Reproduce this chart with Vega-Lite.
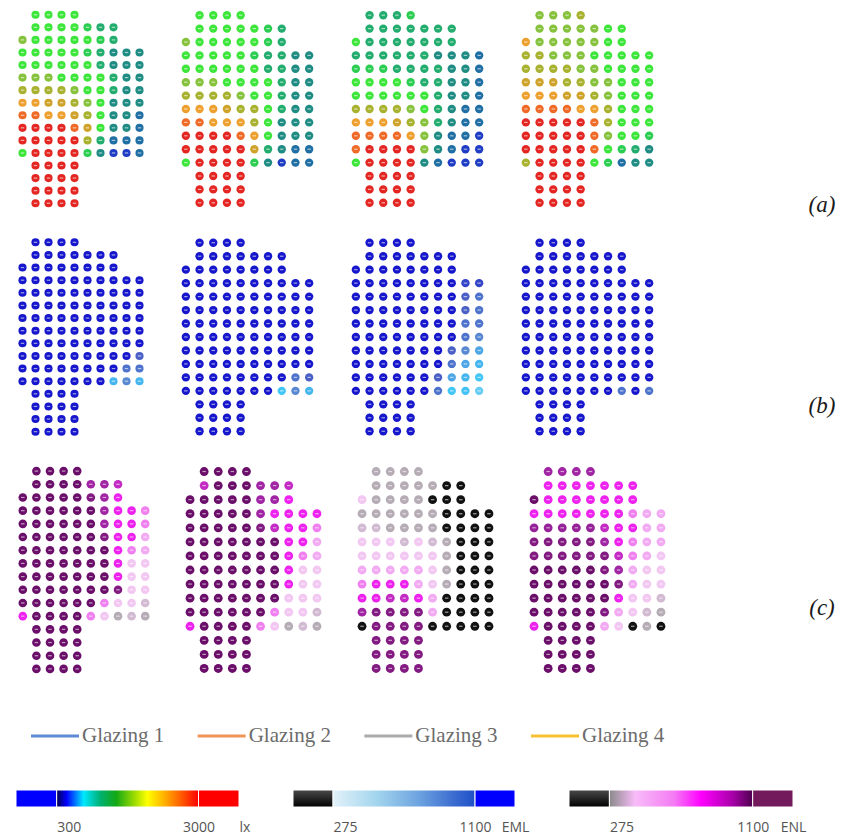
{
  "$schema": "https://vega.github.io/schema/vega-lite/v6.json",
  "padding": {"left": 15, "top": 8.5, "right": 0, "bottom": 0},
  "background": "#ffffff",
  "config": {"view": {"stroke": null}},
  "datasets": {
    "seats": [
      {"r":0,"c":1,"a1":1450,"a2":1450,"a3":1150,"a4":1700,"b1":1500,"b2":1500,"b3":1500,"b4":1500,"c1":1400,"c2":1400,"c3":285,"c4":850},
      {"r":0,"c":2,"a1":1450,"a2":1450,"a3":1150,"a4":1700,"b1":1500,"b2":1500,"b3":1500,"b4":1500,"c1":1400,"c2":1400,"c3":285,"c4":850},
      {"r":0,"c":3,"a1":1450,"a2":1450,"a3":1150,"a4":1700,"b1":1500,"b2":1500,"b3":1500,"b4":1500,"c1":1400,"c2":1400,"c3":285,"c4":850},
      {"r":0,"c":4,"a1":1450,"a2":1450,"a3":1300,"a4":1900,"b1":1500,"b2":1500,"b3":1500,"b4":1500,"c1":1400,"c2":1400,"c3":285,"c4":850},

      {"r":1,"c":1,"a1":1450,"a2":1450,"a3":1150,"a4":1700,"b1":1500,"b2":1500,"b3":1500,"b4":1500,"c1":1400,"c2":750,"c3":285,"c4":650},
      {"r":1,"c":2,"a1":1450,"a2":1450,"a3":1150,"a4":1700,"b1":1500,"b2":1500,"b3":1500,"b4":1500,"c1":1400,"c2":1400,"c3":285,"c4":650},
      {"r":1,"c":3,"a1":1450,"a2":1450,"a3":1150,"a4":1700,"b1":1500,"b2":1500,"b3":1500,"b4":1500,"c1":1400,"c2":1400,"c3":285,"c4":650},
      {"r":1,"c":4,"a1":1450,"a2":1450,"a3":1150,"a4":1700,"b1":1500,"b2":1500,"b3":1500,"b4":1500,"c1":1400,"c2":1400,"c3":285,"c4":650},
      {"r":1,"c":5,"a1":1300,"a2":1450,"a3":1150,"a4":1700,"b1":1500,"b2":1500,"b3":1500,"b4":1500,"c1":850,"c2":850,"c3":285,"c4":650},
      {"r":1,"c":6,"a1":1150,"a2":1300,"a3":1150,"a4":1450,"b1":1500,"b2":1500,"b3":1500,"b4":1500,"c1":850,"c2":850,"c3":200,"c4":650},
      {"r":1,"c":7,"a1":1150,"a2":1150,"a3":1150,"a4":1450,"b1":1500,"b2":1500,"b3":1500,"b4":1500,"c1":750,"c2":750,"c3":200,"c4":650},

      {"r":2,"c":0,"a1":1700,"a2":1700,"a3":1450,"a4":2450,"b1":1500,"b2":1500,"b3":1500,"b4":1500,"c1":1400,"c2":1400,"c3":340,"c4":1400},
      {"r":2,"c":1,"a1":1450,"a2":1450,"a3":1150,"a4":1700,"b1":1500,"b2":1500,"b3":1500,"b4":1500,"c1":1400,"c2":1400,"c3":285,"c4":650},
      {"r":2,"c":2,"a1":1450,"a2":1450,"a3":1150,"a4":1700,"b1":1500,"b2":1500,"b3":1500,"b4":1500,"c1":1400,"c2":1400,"c3":285,"c4":650},
      {"r":2,"c":3,"a1":1450,"a2":1450,"a3":1150,"a4":1700,"b1":1500,"b2":1500,"b3":1500,"b4":1500,"c1":1400,"c2":1400,"c3":285,"c4":650},
      {"r":2,"c":4,"a1":1450,"a2":1450,"a3":1150,"a4":1700,"b1":1500,"b2":1500,"b3":1500,"b4":1500,"c1":1400,"c2":1400,"c3":285,"c4":650},
      {"r":2,"c":5,"a1":1450,"a2":1450,"a3":1150,"a4":1700,"b1":1500,"b2":1500,"b3":1500,"b4":1500,"c1":1000,"c2":850,"c3":200,"c4":650},
      {"r":2,"c":6,"a1":1300,"a2":1300,"a3":1150,"a4":1450,"b1":1500,"b2":1500,"b3":1500,"b4":1500,"c1":850,"c2":850,"c3":200,"c4":650},
      {"r":2,"c":7,"a1":1150,"a2":1150,"a3":1150,"a4":1450,"b1":1500,"b2":1500,"b3":1500,"b4":1500,"c1":650,"c2":650,"c3":200,"c4":650},

      {"r":3,"c":0,"a1":1450,"a2":1450,"a3":1150,"a4":1900,"b1":1500,"b2":1500,"b3":1500,"b4":1500,"c1":1400,"c2":1400,"c3":285,"c4":650},
      {"r":3,"c":1,"a1":1450,"a2":1450,"a3":1150,"a4":1900,"b1":1500,"b2":1500,"b3":1500,"b4":1500,"c1":1400,"c2":1400,"c3":285,"c4":650},
      {"r":3,"c":2,"a1":1450,"a2":1450,"a3":1150,"a4":1700,"b1":1500,"b2":1500,"b3":1500,"b4":1500,"c1":1400,"c2":1400,"c3":285,"c4":650},
      {"r":3,"c":3,"a1":1450,"a2":1450,"a3":1150,"a4":1700,"b1":1500,"b2":1500,"b3":1500,"b4":1500,"c1":1400,"c2":1400,"c3":285,"c4":650},
      {"r":3,"c":4,"a1":1450,"a2":1450,"a3":1150,"a4":1700,"b1":1500,"b2":1500,"b3":1500,"b4":1500,"c1":1400,"c2":1400,"c3":285,"c4":650},
      {"r":3,"c":5,"a1":1300,"a2":1300,"a3":1150,"a4":1450,"b1":1500,"b2":1500,"b3":1500,"b4":1500,"c1":1400,"c2":850,"c3":285,"c4":650},
      {"r":3,"c":6,"a1":1150,"a2":1150,"a3":950,"a4":1450,"b1":1500,"b2":1500,"b3":1500,"b4":1500,"c1":850,"c2":650,"c3":200,"c4":650},
      {"r":3,"c":7,"a1":950,"a2":1150,"a3":950,"a4":1450,"b1":1500,"b2":1500,"b3":1500,"b4":1500,"c1":650,"c2":650,"c3":200,"c4":500},
      {"r":3,"c":8,"a1":950,"a2":950,"a3":950,"a4":1450,"b1":1500,"b2":1500,"b3":1050,"b4":1500,"c1":650,"c2":650,"c3":200,"c4":400},
      {"r":3,"c":9,"a1":950,"a2":950,"a3":750,"a4":1450,"b1":1500,"b2":1500,"b3":1050,"b4":1500,"c1":500,"c2":650,"c3":200,"c4":400},

      {"r":4,"c":0,"a1":1450,"a2":1450,"a3":1300,"a4":1900,"b1":1500,"b2":1500,"b3":1500,"b4":1500,"c1":1400,"c2":1400,"c3":300,"c4":900},
      {"r":4,"c":1,"a1":1450,"a2":1450,"a3":1300,"a4":1900,"b1":1500,"b2":1500,"b3":1500,"b4":1500,"c1":1400,"c2":1400,"c3":300,"c4":900},
      {"r":4,"c":2,"a1":1450,"a2":1450,"a3":1300,"a4":1900,"b1":1500,"b2":1500,"b3":1500,"b4":1500,"c1":1400,"c2":1400,"c3":285,"c4":900},
      {"r":4,"c":3,"a1":1450,"a2":1450,"a3":1150,"a4":1900,"b1":1500,"b2":1500,"b3":1500,"b4":1500,"c1":1400,"c2":1400,"c3":285,"c4":900},
      {"r":4,"c":4,"a1":1450,"a2":1450,"a3":1150,"a4":1700,"b1":1500,"b2":1500,"b3":1500,"b4":1500,"c1":1400,"c2":1400,"c3":285,"c4":900},
      {"r":4,"c":5,"a1":1450,"a2":1450,"a3":1150,"a4":1700,"b1":1500,"b2":1500,"b3":1500,"b4":1500,"c1":1400,"c2":1000,"c3":285,"c4":750},
      {"r":4,"c":6,"a1":1150,"a2":1150,"a3":1150,"a4":1450,"b1":1500,"b2":1500,"b3":1500,"b4":1500,"c1":850,"c2":750,"c3":200,"c4":650},
      {"r":4,"c":7,"a1":950,"a2":1150,"a3":950,"a4":1450,"b1":1500,"b2":1500,"b3":1500,"b4":1500,"c1":650,"c2":650,"c3":200,"c4":650},
      {"r":4,"c":8,"a1":950,"a2":950,"a3":950,"a4":1450,"b1":1500,"b2":1500,"b3":950,"b4":1500,"c1":650,"c2":650,"c3":200,"c4":400},
      {"r":4,"c":9,"a1":950,"a2":950,"a3":750,"a4":1450,"b1":1500,"b2":1500,"b3":880,"b4":1500,"c1":500,"c2":500,"c3":200,"c4":400},

      {"r":5,"c":0,"a1":1700,"a2":1700,"a3":1450,"a4":2150,"b1":1500,"b2":1500,"b3":1500,"b4":1500,"c1":1400,"c2":1400,"c3":340,"c4":1000},
      {"r":5,"c":1,"a1":1700,"a2":1700,"a3":1450,"a4":2150,"b1":1500,"b2":1500,"b3":1500,"b4":1500,"c1":1400,"c2":1400,"c3":340,"c4":1000},
      {"r":5,"c":2,"a1":1700,"a2":1700,"a3":1450,"a4":2150,"b1":1500,"b2":1500,"b3":1500,"b4":1500,"c1":1400,"c2":1400,"c3":340,"c4":1000},
      {"r":5,"c":3,"a1":1450,"a2":1450,"a3":1450,"a4":1900,"b1":1500,"b2":1500,"b3":1500,"b4":1500,"c1":1400,"c2":1400,"c3":300,"c4":1000},
      {"r":5,"c":4,"a1":1450,"a2":1450,"a3":1300,"a4":1900,"b1":1500,"b2":1500,"b3":1500,"b4":1500,"c1":1400,"c2":1400,"c3":340,"c4":1000},
      {"r":5,"c":5,"a1":1450,"a2":1450,"a3":1150,"a4":1700,"b1":1500,"b2":1500,"b3":1500,"b4":1500,"c1":1400,"c2":1400,"c3":300,"c4":850},
      {"r":5,"c":6,"a1":1450,"a2":1450,"a3":1150,"a4":1700,"b1":1500,"b2":1500,"b3":1500,"b4":1500,"c1":1000,"c2":1400,"c3":285,"c4":650},
      {"r":5,"c":7,"a1":1150,"a2":1150,"a3":950,"a4":1450,"b1":1500,"b2":1500,"b3":1500,"b4":1500,"c1":650,"c2":650,"c3":200,"c4":500},
      {"r":5,"c":8,"a1":950,"a2":950,"a3":950,"a4":1450,"b1":1500,"b2":1500,"b3":950,"b4":1500,"c1":650,"c2":650,"c3":200,"c4":400},
      {"r":5,"c":9,"a1":950,"a2":950,"a3":750,"a4":1450,"b1":1500,"b2":1500,"b3":880,"b4":1500,"c1":400,"c2":400,"c3":200,"c4":400},

      {"r":6,"c":0,"a1":1900,"a2":1900,"a3":1450,"a4":2450,"b1":1500,"b2":1500,"b3":1500,"b4":1500,"c1":1400,"c2":1400,"c3":340,"c4":1000},
      {"r":6,"c":1,"a1":1900,"a2":1900,"a3":1450,"a4":2450,"b1":1500,"b2":1500,"b3":1500,"b4":1500,"c1":1400,"c2":1400,"c3":340,"c4":1000},
      {"r":6,"c":2,"a1":1900,"a2":1900,"a3":1450,"a4":2450,"b1":1500,"b2":1500,"b3":1500,"b4":1500,"c1":1400,"c2":1400,"c3":340,"c4":1000},
      {"r":6,"c":3,"a1":1900,"a2":1900,"a3":1450,"a4":2150,"b1":1500,"b2":1500,"b3":1500,"b4":1500,"c1":1400,"c2":1400,"c3":340,"c4":1000},
      {"r":6,"c":4,"a1":1700,"a2":1700,"a3":1450,"a4":2150,"b1":1500,"b2":1500,"b3":1500,"b4":1500,"c1":1400,"c2":1400,"c3":340,"c4":1000},
      {"r":6,"c":5,"a1":1450,"a2":1450,"a3":1450,"a4":1900,"b1":1500,"b2":1500,"b3":1500,"b4":1500,"c1":1400,"c2":1400,"c3":340,"c4":1000},
      {"r":6,"c":6,"a1":1450,"a2":1450,"a3":1150,"a4":1700,"b1":1500,"b2":1500,"b3":1500,"b4":1500,"c1":1400,"c2":1400,"c3":285,"c4":750},
      {"r":6,"c":7,"a1":1150,"a2":1150,"a3":950,"a4":1450,"b1":1500,"b2":1500,"b3":1500,"b4":1500,"c1":650,"c2":650,"c3":200,"c4":500},
      {"r":6,"c":8,"a1":950,"a2":950,"a3":950,"a4":1450,"b1":1500,"b2":1500,"b3":880,"b4":1500,"c1":500,"c2":500,"c3":200,"c4":400},
      {"r":6,"c":9,"a1":950,"a2":950,"a3":750,"a4":1450,"b1":1500,"b2":1500,"b3":880,"b4":1500,"c1":400,"c2":400,"c3":200,"c4":340},

      {"r":7,"c":0,"a1":2450,"a2":2450,"a3":1900,"a4":2750,"b1":1500,"b2":1500,"b3":1500,"b4":1500,"c1":1400,"c2":1400,"c3":400,"c4":1400},
      {"r":7,"c":1,"a1":2450,"a2":2450,"a3":1900,"a4":2750,"b1":1500,"b2":1500,"b3":1500,"b4":1500,"c1":1400,"c2":1400,"c3":400,"c4":1400},
      {"r":7,"c":2,"a1":2150,"a2":2450,"a3":1900,"a4":2750,"b1":1500,"b2":1500,"b3":1500,"b4":1500,"c1":1400,"c2":1400,"c3":400,"c4":1400},
      {"r":7,"c":3,"a1":2150,"a2":2150,"a3":1900,"a4":2750,"b1":1500,"b2":1500,"b3":1500,"b4":1500,"c1":1400,"c2":1400,"c3":400,"c4":1400},
      {"r":7,"c":4,"a1":1900,"a2":1900,"a3":1700,"a4":2450,"b1":1500,"b2":1500,"b3":1500,"b4":1500,"c1":1400,"c2":1400,"c3":400,"c4":1400},
      {"r":7,"c":5,"a1":1700,"a2":1900,"a3":1450,"a4":2450,"b1":1500,"b2":1500,"b3":1500,"b4":1500,"c1":1400,"c2":1400,"c3":340,"c4":1000},
      {"r":7,"c":6,"a1":1450,"a2":1450,"a3":1150,"a4":1900,"b1":1500,"b2":1500,"b3":1500,"b4":1500,"c1":1400,"c2":1400,"c3":285,"c4":850},
      {"r":7,"c":7,"a1":950,"a2":1150,"a3":950,"a4":1450,"b1":1500,"b2":1500,"b3":1500,"b4":1500,"c1":650,"c2":650,"c3":200,"c4":400},
      {"r":7,"c":8,"a1":950,"a2":950,"a3":750,"a4":1450,"b1":1500,"b2":1500,"b3":880,"b4":1500,"c1":340,"c2":340,"c3":200,"c4":340},
      {"r":7,"c":9,"a1":950,"a2":950,"a3":750,"a4":1450,"b1":1500,"b2":1500,"b3":800,"b4":1500,"c1":340,"c2":340,"c3":200,"c4":340},

      {"r":8,"c":0,"a1":2750,"a2":2750,"a3":2450,"a4":3000,"b1":1500,"b2":1500,"b3":1500,"b4":1500,"c1":1400,"c2":1400,"c3":500,"c4":1400},
      {"r":8,"c":1,"a1":2750,"a2":2750,"a3":2450,"a4":3000,"b1":1500,"b2":1500,"b3":1500,"b4":1500,"c1":1400,"c2":1400,"c3":650,"c4":1400},
      {"r":8,"c":2,"a1":2450,"a2":2450,"a3":2450,"a4":3000,"b1":1500,"b2":1500,"b3":1500,"b4":1500,"c1":1400,"c2":1400,"c3":650,"c4":1400},
      {"r":8,"c":3,"a1":2450,"a2":2450,"a3":2150,"a4":3000,"b1":1500,"b2":1500,"b3":1500,"b4":1500,"c1":1400,"c2":1400,"c3":650,"c4":1400},
      {"r":8,"c":4,"a1":2150,"a2":2450,"a3":1900,"a4":3000,"b1":1500,"b2":1500,"b3":1500,"b4":1500,"c1":1400,"c2":1400,"c3":400,"c4":1400},
      {"r":8,"c":5,"a1":1900,"a2":1900,"a3":1700,"a4":2750,"b1":1500,"b2":1500,"b3":1500,"b4":1500,"c1":1400,"c2":1400,"c3":340,"c4":1400},
      {"r":8,"c":6,"a1":1450,"a2":1450,"a3":1150,"a4":1900,"b1":1500,"b2":1500,"b3":1500,"b4":1500,"c1":1400,"c2":1400,"c3":285,"c4":1000},
      {"r":8,"c":7,"a1":950,"a2":950,"a3":950,"a4":1450,"b1":1500,"b2":1500,"b3":950,"b4":1500,"c1":650,"c2":650,"c3":200,"c4":400},
      {"r":8,"c":8,"a1":950,"a2":950,"a3":750,"a4":1450,"b1":1500,"b2":1500,"b3":800,"b4":1500,"c1":340,"c2":340,"c3":200,"c4":340},
      {"r":8,"c":9,"a1":750,"a2":950,"a3":750,"a4":1450,"b1":1500,"b2":1500,"b3":650,"b4":1500,"c1":340,"c2":340,"c3":200,"c4":340},

      {"r":9,"c":0,"a1":3000,"a2":3000,"a3":2750,"a4":3000,"b1":1500,"b2":1500,"b3":1500,"b4":1500,"c1":1400,"c2":1400,"c3":650,"c4":1400},
      {"r":9,"c":1,"a1":3000,"a2":3000,"a3":2750,"a4":3000,"b1":1500,"b2":1500,"b3":1500,"b4":1500,"c1":1400,"c2":1400,"c3":650,"c4":1400},
      {"r":9,"c":2,"a1":3000,"a2":3000,"a3":2750,"a4":3000,"b1":1500,"b2":1500,"b3":1500,"b4":1500,"c1":1400,"c2":1400,"c3":750,"c4":1400},
      {"r":9,"c":3,"a1":3000,"a2":3000,"a3":2750,"a4":3000,"b1":1500,"b2":1500,"b3":1500,"b4":1500,"c1":1400,"c2":1400,"c3":750,"c4":1400},
      {"r":9,"c":4,"a1":2750,"a2":2750,"a3":2450,"a4":3000,"b1":1500,"b2":1500,"b3":1500,"b4":1500,"c1":1400,"c2":1400,"c3":650,"c4":1400},
      {"r":9,"c":5,"a1":2150,"a2":2450,"a3":1700,"a4":2750,"b1":1500,"b2":1500,"b3":1500,"b4":1500,"c1":1400,"c2":1400,"c3":400,"c4":1400},
      {"r":9,"c":6,"a1":1450,"a2":1450,"a3":950,"a4":1700,"b1":1500,"b2":1500,"b3":1500,"b4":1500,"c1":1400,"c2":1400,"c3":200,"c4":650},
      {"r":9,"c":7,"a1":950,"a2":950,"a3":750,"a4":1450,"b1":1500,"b2":1500,"b3":880,"b4":1500,"c1":1000,"c2":340,"c3":200,"c4":340},
      {"r":9,"c":8,"a1":950,"a2":950,"a3":750,"a4":1450,"b1":1500,"b2":1500,"b3":650,"b4":1500,"c1":340,"c2":340,"c3":200,"c4":340},
      {"r":9,"c":9,"a1":750,"a2":950,"a3":500,"a4":1300,"b1":950,"b2":1500,"b3":550,"b4":1500,"c1":340,"c2":340,"c3":200,"c4":300},

      {"r":10,"c":0,"a1":3000,"a2":3000,"a3":2750,"a4":3000,"b1":1500,"b2":1500,"b3":1500,"b4":1500,"c1":1400,"c2":1400,"c3":850,"c4":1400},
      {"r":10,"c":1,"a1":3000,"a2":3000,"a3":3000,"a4":3000,"b1":1500,"b2":1500,"b3":1500,"b4":1500,"c1":1400,"c2":1400,"c3":1000,"c4":1400},
      {"r":10,"c":2,"a1":3000,"a2":3000,"a3":3000,"a4":3000,"b1":1500,"b2":1500,"b3":1500,"b4":1500,"c1":1400,"c2":1400,"c3":1000,"c4":1400},
      {"r":10,"c":3,"a1":3000,"a2":3000,"a3":3000,"a4":3000,"b1":1500,"b2":1500,"b3":1500,"b4":1500,"c1":1400,"c2":1400,"c3":1000,"c4":1400},
      {"r":10,"c":4,"a1":3000,"a2":3000,"a3":3000,"a4":3000,"b1":1500,"b2":1500,"b3":1500,"b4":1500,"c1":1400,"c2":1400,"c3":1000,"c4":1400},
      {"r":10,"c":5,"a1":1900,"a2":2150,"a3":1700,"a4":2750,"b1":1500,"b2":1500,"b3":1500,"b4":1500,"c1":1400,"c2":1400,"c3":400,"c4":1000},
      {"r":10,"c":6,"a1":1150,"a2":1150,"a3":950,"a4":1450,"b1":1500,"b2":1500,"b3":950,"b4":1500,"c1":500,"c2":500,"c3":200,"c4":400},
      {"r":10,"c":7,"a1":750,"a2":950,"a3":750,"a4":1300,"b1":1500,"b2":1500,"b3":650,"b4":1500,"c1":340,"c2":340,"c3":200,"c4":340},
      {"r":10,"c":8,"a1":750,"a2":750,"a3":500,"a4":1150,"b1":880,"b2":880,"b3":550,"b4":1500,"c1":340,"c2":340,"c3":200,"c4":300},
      {"r":10,"c":9,"a1":750,"a2":750,"a3":500,"a4":950,"b1":880,"b2":950,"b3":450,"b4":1500,"c1":300,"c2":300,"c3":200,"c4":285},

      {"r":11,"c":0,"a1":1450,"a2":1450,"a3":1450,"a4":1900,"b1":1500,"b2":1500,"b3":1500,"b4":1500,"c1":650,"c2":650,"c3":200,"c4":650},
      {"r":11,"c":1,"a1":3000,"a2":3000,"a3":3000,"a4":3000,"b1":1500,"b2":1500,"b3":1500,"b4":1500,"c1":1400,"c2":1400,"c3":1000,"c4":1400},
      {"r":11,"c":2,"a1":3000,"a2":3000,"a3":3000,"a4":3000,"b1":1500,"b2":1500,"b3":1500,"b4":1500,"c1":1400,"c2":1400,"c3":1000,"c4":1400},
      {"r":11,"c":3,"a1":3000,"a2":3000,"a3":3000,"a4":3000,"b1":1500,"b2":1500,"b3":1500,"b4":1500,"c1":1400,"c2":1400,"c3":1000,"c4":1400},
      {"r":11,"c":4,"a1":3000,"a2":3000,"a3":3000,"a4":3000,"b1":1500,"b2":1500,"b3":1500,"b4":1500,"c1":1400,"c2":1400,"c3":1000,"c4":1400},
      {"r":11,"c":5,"a1":1300,"a2":1300,"a3":950,"a4":1450,"b1":1500,"b2":1500,"b3":1500,"b4":1500,"c1":500,"c2":500,"c3":200,"c4":400},
      {"r":11,"c":6,"a1":950,"a2":950,"a3":750,"a4":1300,"b1":1500,"b2":1500,"b3":880,"b4":1500,"c1":340,"c2":340,"c3":200,"c4":340},
      {"r":11,"c":7,"a1":500,"a2":500,"a3":500,"a4":750,"b1":550,"b2":450,"b3":450,"b4":880,"c1":285,"c2":285,"c3":200,"c4":200},
      {"r":11,"c":8,"a1":500,"a2":750,"a3":500,"a4":950,"b1":800,"b2":800,"b3":480,"b4":1500,"c1":300,"c2":300,"c3":200,"c4":285},
      {"r":11,"c":9,"a1":750,"a2":750,"a3":500,"a4":950,"b1":550,"b2":550,"b3":420,"b4":880,"c1":285,"c2":285,"c3":200,"c4":200},

      {"r":12,"c":1,"a1":3000,"a2":3000,"a3":3000,"a4":3000,"b1":1500,"b2":1500,"b3":1500,"b4":1500,"c1":1400,"c2":1400,"c3":1000,"c4":1400},
      {"r":12,"c":2,"a1":3000,"a2":3000,"a3":3000,"a4":3000,"b1":1500,"b2":1500,"b3":1500,"b4":1500,"c1":1400,"c2":1400,"c3":1000,"c4":1400},
      {"r":12,"c":3,"a1":3000,"a2":3000,"a3":3000,"a4":3000,"b1":1500,"b2":1500,"b3":1500,"b4":1500,"c1":1400,"c2":1400,"c3":1000,"c4":1400},
      {"r":12,"c":4,"a1":3000,"a2":3000,"a3":3000,"a4":3000,"b1":1500,"b2":1500,"b3":1500,"b4":1500,"c1":1400,"c2":1400,"c3":1000,"c4":1400},
      {"r":13,"c":1,"a1":3000,"a2":3000,"a3":3000,"a4":3000,"b1":1500,"b2":1500,"b3":1500,"b4":1500,"c1":1400,"c2":1400,"c3":1000,"c4":1400},
      {"r":13,"c":2,"a1":3000,"a2":3000,"a3":3000,"a4":3000,"b1":1500,"b2":1500,"b3":1500,"b4":1500,"c1":1400,"c2":1400,"c3":1000,"c4":1400},
      {"r":13,"c":3,"a1":3000,"a2":3000,"a3":3000,"a4":3000,"b1":1500,"b2":1500,"b3":1500,"b4":1500,"c1":1400,"c2":1400,"c3":1000,"c4":1400},
      {"r":13,"c":4,"a1":3000,"a2":3000,"a3":3000,"a4":3000,"b1":1500,"b2":1500,"b3":1500,"b4":1500,"c1":1400,"c2":1400,"c3":1000,"c4":1400},
      {"r":14,"c":1,"a1":3000,"a2":3000,"a3":3000,"a4":3000,"b1":1500,"b2":1500,"b3":1500,"b4":1500,"c1":1400,"c2":1400,"c3":1000,"c4":1400},
      {"r":14,"c":2,"a1":3000,"a2":3000,"a3":3000,"a4":3000,"b1":1500,"b2":1500,"b3":1500,"b4":1500,"c1":1400,"c2":1400,"c3":1000,"c4":1400},
      {"r":14,"c":3,"a1":3000,"a2":3000,"a3":3000,"a4":3000,"b1":1500,"b2":1500,"b3":1500,"b4":1500,"c1":1400,"c2":1400,"c3":1000,"c4":1400},
      {"r":14,"c":4,"a1":3000,"a2":3000,"a3":3000,"a4":3000,"b1":1500,"b2":1500,"b3":1500,"b4":1500,"c1":1400,"c2":1400,"c3":1000,"c4":1400},
      {"r":15,"c":1,"a1":3000,"b1":1500,"c1":1400},
      {"r":15,"c":2,"a1":3000,"b1":1500,"c1":1400},
      {"r":15,"c":3,"a1":3000,"b1":1500,"c1":1400},
      {"r":15,"c":4,"a1":3000,"b1":1500,"c1":1400}
    ],
    "tags": [{"t": "(a)"}, {"t": "(b)"}, {"t": "(c)"}],
    "glz": [{"g": "Glazing 1"}, {"g": "Glazing 2"}, {"g": "Glazing 3"}, {"g": "Glazing 4"}],
    "lx": [
      {"part": "below", "lo": 155, "hi": 300},
      {"part": "range", "lo": 300, "hi": 3000},
      {"part": "above", "lo": 3000, "hi": 5790}
    ],
    "eml": [
      {"part": "below", "lo": 186, "hi": 275},
      {"part": "range", "lo": 275, "hi": 1100},
      {"part": "above", "lo": 1100, "hi": 1625}
    ],
    "enl": [
      {"part": "below", "lo": 186, "hi": 275},
      {"part": "range", "lo": 275, "hi": 1100},
      {"part": "above", "lo": 1100, "hi": 1625}
    ]
  },
  "vconcat": [
    {
      "hconcat": [
        {
          "data": {"name": "seats"},
          "spacing": 26.5,
          "resolve": {"scale": {"color": "independent", "x": "independent", "y": "independent"}},
          "vconcat": [
            {
              "spacing": 33,
              "resolve": {"scale": {"color": "independent", "x": "independent", "y": "independent"}},
              "hconcat": [
                {"width": 130, "height": 201, "transform": [{"filter": "isValid(datum.a1)"}],
                 "encoding": {"x": {"field": "c", "type": "quantitative", "scale": {"domain": [-0.5, 9.5], "nice": false, "zero": false}, "axis": null},
                              "y": {"field": "r", "type": "quantitative", "scale": {"domain": [-0.5, 15.5], "nice": false, "zero": false, "reverse": true}, "axis": null}},
                 "layer": [
                   {"mark": {"type": "circle", "size": 66, "opacity": 1},
                    "encoding": {"color": {"field": "a1", "type": "quantitative", "legend": null,
                      "scale": {"domain": [300,500,750,950,1150,1300,1450,1700,1900,2150,2450,2750,3000], "range": ["#10106e","#1f3cc4","#1f6ea4","#1f8c84","#22ad6e","#2cce52","#3de63a","#86c23c","#a8b22e","#cfa22a","#eea02e","#ee6a26","#e42622"], "clamp": true}}}},
                   {"mark": {"type": "point", "shape": "stroke", "size": 12, "color": "#ffffff", "strokeWidth": 1.2, "opacity": 0.6}, "encoding": {}}
                 ]},
                {"width": 137, "height": 201, "transform": [{"filter": "isValid(datum.a2)"}],
                 "encoding": {"x": {"field": "c", "type": "quantitative", "scale": {"domain": [-0.5, 9.5], "nice": false, "zero": false}, "axis": null},
                              "y": {"field": "r", "type": "quantitative", "scale": {"domain": [-0.5, 14.5], "nice": false, "zero": false, "reverse": true}, "axis": null}},
                 "layer": [
                   {"mark": {"type": "circle", "size": 70, "opacity": 1},
                    "encoding": {"color": {"field": "a2", "type": "quantitative", "legend": null,
                      "scale": {"domain": [300,500,750,950,1150,1300,1450,1700,1900,2150,2450,2750,3000], "range": ["#10106e","#1f3cc4","#1f6ea4","#1f8c84","#22ad6e","#2cce52","#3de63a","#86c23c","#a8b22e","#cfa22a","#eea02e","#ee6a26","#e42622"], "clamp": true}}}},
                   {"mark": {"type": "point", "shape": "stroke", "size": 12, "color": "#ffffff", "strokeWidth": 1.2, "opacity": 0.6}, "encoding": {}}
                 ]},
                {"width": 137, "height": 201, "transform": [{"filter": "isValid(datum.a3)"}],
                 "encoding": {"x": {"field": "c", "type": "quantitative", "scale": {"domain": [-0.5, 9.5], "nice": false, "zero": false}, "axis": null},
                              "y": {"field": "r", "type": "quantitative", "scale": {"domain": [-0.5, 14.5], "nice": false, "zero": false, "reverse": true}, "axis": null}},
                 "layer": [
                   {"mark": {"type": "circle", "size": 70, "opacity": 1},
                    "encoding": {"color": {"field": "a3", "type": "quantitative", "legend": null,
                      "scale": {"domain": [300,500,750,950,1150,1300,1450,1700,1900,2150,2450,2750,3000], "range": ["#10106e","#1f3cc4","#1f6ea4","#1f8c84","#22ad6e","#2cce52","#3de63a","#86c23c","#a8b22e","#cfa22a","#eea02e","#ee6a26","#e42622"], "clamp": true}}}},
                   {"mark": {"type": "point", "shape": "stroke", "size": 12, "color": "#ffffff", "strokeWidth": 1.2, "opacity": 0.6}, "encoding": {}}
                 ]},
                {"width": 137, "height": 201, "transform": [{"filter": "isValid(datum.a4)"}],
                 "encoding": {"x": {"field": "c", "type": "quantitative", "scale": {"domain": [-0.5, 9.5], "nice": false, "zero": false}, "axis": null},
                              "y": {"field": "r", "type": "quantitative", "scale": {"domain": [-0.5, 14.5], "nice": false, "zero": false, "reverse": true}, "axis": null}},
                 "layer": [
                   {"mark": {"type": "circle", "size": 70, "opacity": 1},
                    "encoding": {"color": {"field": "a4", "type": "quantitative", "legend": null,
                      "scale": {"domain": [300,500,750,950,1150,1300,1450,1700,1900,2150,2450,2750,3000], "range": ["#10106e","#1f3cc4","#1f6ea4","#1f8c84","#22ad6e","#2cce52","#3de63a","#86c23c","#a8b22e","#cfa22a","#eea02e","#ee6a26","#e42622"], "clamp": true}}}},
                   {"mark": {"type": "point", "shape": "stroke", "size": 12, "color": "#ffffff", "strokeWidth": 1.2, "opacity": 0.6}, "encoding": {}}
                 ]}
              ]
            },
            {
              "spacing": 33,
              "resolve": {"scale": {"color": "independent", "x": "independent", "y": "independent"}},
              "hconcat": [
                {"width": 130, "height": 202, "transform": [{"filter": "isValid(datum.b1)"}],
                 "encoding": {"x": {"field": "c", "type": "quantitative", "scale": {"domain": [-0.5, 9.5], "nice": false, "zero": false}, "axis": null},
                              "y": {"field": "r", "type": "quantitative", "scale": {"domain": [-0.5, 15.5], "nice": false, "zero": false, "reverse": true}, "axis": null}},
                 "layer": [
                   {"mark": {"type": "circle", "size": 66, "opacity": 1},
                    "encoding": {"color": {"field": "b1", "type": "quantitative", "legend": null,
                      "scale": {"domain": [100,274,275,450,650,800,950,1100,1101,5000], "range": ["#111111","#111111","#cce8f6","#42c6f6","#4ea6e6","#5888d2","#4a60c6","#2c34c8","#1616cc","#1616cc"], "clamp": true}}}},
                   {"mark": {"type": "point", "shape": "stroke", "size": 12, "color": "#ffffff", "strokeWidth": 1.2, "opacity": 0.6}, "encoding": {}}
                 ]},
                {"width": 137, "height": 202, "transform": [{"filter": "isValid(datum.b2)"}],
                 "encoding": {"x": {"field": "c", "type": "quantitative", "scale": {"domain": [-0.5, 9.5], "nice": false, "zero": false}, "axis": null},
                              "y": {"field": "r", "type": "quantitative", "scale": {"domain": [-0.5, 14.5], "nice": false, "zero": false, "reverse": true}, "axis": null}},
                 "layer": [
                   {"mark": {"type": "circle", "size": 70, "opacity": 1},
                    "encoding": {"color": {"field": "b2", "type": "quantitative", "legend": null,
                      "scale": {"domain": [100,274,275,450,650,800,950,1100,1101,5000], "range": ["#111111","#111111","#cce8f6","#42c6f6","#4ea6e6","#5888d2","#4a60c6","#2c34c8","#1616cc","#1616cc"], "clamp": true}}}},
                   {"mark": {"type": "point", "shape": "stroke", "size": 12, "color": "#ffffff", "strokeWidth": 1.2, "opacity": 0.6}, "encoding": {}}
                 ]},
                {"width": 137, "height": 202, "transform": [{"filter": "isValid(datum.b3)"}],
                 "encoding": {"x": {"field": "c", "type": "quantitative", "scale": {"domain": [-0.5, 9.5], "nice": false, "zero": false}, "axis": null},
                              "y": {"field": "r", "type": "quantitative", "scale": {"domain": [-0.5, 14.5], "nice": false, "zero": false, "reverse": true}, "axis": null}},
                 "layer": [
                   {"mark": {"type": "circle", "size": 70, "opacity": 1},
                    "encoding": {"color": {"field": "b3", "type": "quantitative", "legend": null,
                      "scale": {"domain": [100,274,275,450,650,800,950,1100,1101,5000], "range": ["#111111","#111111","#cce8f6","#42c6f6","#4ea6e6","#5888d2","#4a60c6","#2c34c8","#1616cc","#1616cc"], "clamp": true}}}},
                   {"mark": {"type": "point", "shape": "stroke", "size": 12, "color": "#ffffff", "strokeWidth": 1.2, "opacity": 0.6}, "encoding": {}}
                 ]},
                {"width": 137, "height": 202, "transform": [{"filter": "isValid(datum.b4)"}],
                 "encoding": {"x": {"field": "c", "type": "quantitative", "scale": {"domain": [-0.5, 9.5], "nice": false, "zero": false}, "axis": null},
                              "y": {"field": "r", "type": "quantitative", "scale": {"domain": [-0.5, 14.5], "nice": false, "zero": false, "reverse": true}, "axis": null}},
                 "layer": [
                   {"mark": {"type": "circle", "size": 70, "opacity": 1},
                    "encoding": {"color": {"field": "b4", "type": "quantitative", "legend": null,
                      "scale": {"domain": [100,274,275,450,650,800,950,1100,1101,5000], "range": ["#111111","#111111","#cce8f6","#42c6f6","#4ea6e6","#5888d2","#4a60c6","#2c34c8","#1616cc","#1616cc"], "clamp": true}}}},
                   {"mark": {"type": "point", "shape": "stroke", "size": 12, "color": "#ffffff", "strokeWidth": 1.2, "opacity": 0.6}, "encoding": {}}
                 ]}
              ]
            },
            {
              "spacing": 31,
              "resolve": {"scale": {"color": "independent", "x": "independent", "y": "independent"}},
              "hconcat": [
                {"width": 136, "height": 211, "transform": [{"filter": "isValid(datum.c1)"}],
                 "encoding": {"x": {"field": "c", "type": "quantitative", "scale": {"domain": [-0.5, 9.5], "nice": false, "zero": false}, "axis": null},
                              "y": {"field": "r", "type": "quantitative", "scale": {"domain": [-0.5, 15.5], "nice": false, "zero": false, "reverse": true}, "axis": null}},
                 "layer": [
                   {"mark": {"type": "circle", "size": 74, "opacity": 1},
                    "encoding": {"color": {"field": "c1", "type": "quantitative", "legend": null,
                      "scale": {"domain": [100,274,275,285,300,340,400,500,650,750,850,1000,1100,1101,5000], "range": ["#111111","#111111","#a8a0a8","#b6acb6","#d2bad2","#f2c8f2","#f2aaf2","#f080f0","#ee22ee","#c42ac4","#a024a4","#821a82","#6e106e","#6a0e6a","#6a0e6a"], "clamp": true}}}},
                   {"mark": {"type": "point", "shape": "stroke", "size": 12, "color": "#ffffff", "strokeWidth": 1.2, "opacity": 0.6}, "encoding": {}}
                 ]},
                {"width": 141, "height": 211, "transform": [{"filter": "isValid(datum.c2)"}],
                 "encoding": {"x": {"field": "c", "type": "quantitative", "scale": {"domain": [-0.5, 9.5], "nice": false, "zero": false}, "axis": null},
                              "y": {"field": "r", "type": "quantitative", "scale": {"domain": [-0.5, 14.5], "nice": false, "zero": false, "reverse": true}, "axis": null}},
                 "layer": [
                   {"mark": {"type": "circle", "size": 78, "opacity": 1},
                    "encoding": {"color": {"field": "c2", "type": "quantitative", "legend": null,
                      "scale": {"domain": [100,274,275,285,300,340,400,500,650,750,850,1000,1100,1101,5000], "range": ["#111111","#111111","#a8a0a8","#b6acb6","#d2bad2","#f2c8f2","#f2aaf2","#f080f0","#ee22ee","#c42ac4","#a024a4","#821a82","#6e106e","#6a0e6a","#6a0e6a"], "clamp": true}}}},
                   {"mark": {"type": "point", "shape": "stroke", "size": 12, "color": "#ffffff", "strokeWidth": 1.2, "opacity": 0.6}, "encoding": {}}
                 ]},
                {"width": 141, "height": 211, "transform": [{"filter": "isValid(datum.c3)"}],
                 "encoding": {"x": {"field": "c", "type": "quantitative", "scale": {"domain": [-0.5, 9.5], "nice": false, "zero": false}, "axis": null},
                              "y": {"field": "r", "type": "quantitative", "scale": {"domain": [-0.5, 14.5], "nice": false, "zero": false, "reverse": true}, "axis": null}},
                 "layer": [
                   {"mark": {"type": "circle", "size": 78, "opacity": 1},
                    "encoding": {"color": {"field": "c3", "type": "quantitative", "legend": null,
                      "scale": {"domain": [100,274,275,285,300,340,400,500,650,750,850,1000,1100,1101,5000], "range": ["#111111","#111111","#a8a0a8","#b6acb6","#d2bad2","#f2c8f2","#f2aaf2","#f080f0","#ee22ee","#c42ac4","#a024a4","#821a82","#6e106e","#6a0e6a","#6a0e6a"], "clamp": true}}}},
                   {"mark": {"type": "point", "shape": "stroke", "size": 12, "color": "#ffffff", "strokeWidth": 1.2, "opacity": 0.6}, "encoding": {}}
                 ]},
                {"width": 141, "height": 211, "transform": [{"filter": "isValid(datum.c4)"}],
                 "encoding": {"x": {"field": "c", "type": "quantitative", "scale": {"domain": [-0.5, 9.5], "nice": false, "zero": false}, "axis": null},
                              "y": {"field": "r", "type": "quantitative", "scale": {"domain": [-0.5, 14.5], "nice": false, "zero": false, "reverse": true}, "axis": null}},
                 "layer": [
                   {"mark": {"type": "circle", "size": 78, "opacity": 1},
                    "encoding": {"color": {"field": "c4", "type": "quantitative", "legend": null,
                      "scale": {"domain": [100,274,275,285,300,340,400,500,650,750,850,1000,1100,1101,5000], "range": ["#111111","#111111","#a8a0a8","#b6acb6","#d2bad2","#f2c8f2","#f2aaf2","#f080f0","#ee22ee","#c42ac4","#a024a4","#821a82","#6e106e","#6a0e6a","#6a0e6a"], "clamp": true}}}},
                   {"mark": {"type": "point", "shape": "stroke", "size": 12, "color": "#ffffff", "strokeWidth": 1.2, "opacity": 0.6}, "encoding": {}}
                 ]}
              ]
            }
          ]
        },
        {
          "data": {"name": "tags"},
          "width": 40,
          "height": 667,
          "mark": {"type": "text", "font": "Liberation Serif", "fontStyle": "italic", "fontSize": 23, "color": "#1a1a1a", "baseline": "middle"},
          "encoding": {
            "y": {"field": "t", "type": "nominal", "sort": null, "axis": null, "scale": {"type": "point", "padding": 0.655, "align": 0.744}},
            "text": {"field": "t"}
          }
        }
      ],
      "spacing": 134,
      "resolve": {"scale": {"color": "independent", "x": "independent", "y": "independent"}}
    },
    {
      "spacing": 43,
      "resolve": {"scale": {"color": "independent", "x": "independent", "y": "independent"}},
      "vconcat": [
        {
          "data": {"name": "glz"},
          "width": 578,
          "height": 20,
          "encoding": {"x": {"field": "g", "type": "nominal", "sort": null, "axis": null, "scale": {"type": "point", "padding": 0.234}}},
          "layer": [
            {"mark": {"type": "point", "shape": "stroke", "size": 2304, "strokeWidth": 3, "opacity": 1},
             "encoding": {"color": {"field": "g", "type": "nominal", "legend": null,
               "scale": {"domain": ["Glazing 1", "Glazing 2", "Glazing 3", "Glazing 4"], "range": ["#5f8ad3", "#ef9358", "#ababab", "#f6c12f"]}}}},
            {"mark": {"type": "text", "align": "left", "baseline": "middle", "dx": 27, "font": "Liberation Serif", "fontSize": 21, "color": "#6c6c6c"},
             "encoding": {"text": {"field": "g"}}}
          ]
        },
        {
          "spacing": 54,
          "bounds": "flush",
          "resolve": {"scale": {"color": "independent", "x": "independent", "y": "independent"}},
          "hconcat": [
            {
              "data": {"name": "lx"},
              "width": 223,
              "height": 17,
              "encoding": {
                "x": {"field": "lo", "type": "quantitative", "scale": {"type": "log", "domain": [155, 5790], "nice": false},
                      "axis": {"values": [300, 3000], "format": "d", "title": "lx", "titleAnchor": "end", "titleAlign": "left", "titleBaseline": "top", "titleY": 13, "titleAngle": 0,
                               "titleFont": "Open Sans", "titleFontSize": 14, "titleFontWeight": "normal", "titleColor": "#555555",
                               "domain": false, "ticks": false, "tickSize": 0, "grid": false, "labelPadding": 13, "labelFont": "Open Sans", "labelFontSize": 14, "labelColor": "#555555",
                               "labelFlush": false, "labelOverlap": false, "labelBaseline": "top",
                               "labelAlign": {"condition": {"test": "datum.value <= 300", "value": "left"}, "value": "center"}}},
                "x2": {"field": "hi"}
              },
              "layer": [
                {"transform": [{"filter": "datum.part == 'below'"}], "mark": {"type": "rect", "fill": "#0000ff", "stroke": "#ffffff", "strokeWidth": 1}},
                {"transform": [{"filter": "datum.part == 'range'"}], "mark": {"type": "rect", "stroke": "#ffffff", "strokeWidth": 1,
                  "fill": {"gradient": "linear", "x1": 0, "y1": 0, "x2": 1, "y2": 0, "stops": [
                    {"offset": 0, "color": "#00004e"}, {"offset": 0.07, "color": "#0000ff"}, {"offset": 0.19, "color": "#00e8ff"},
                    {"offset": 0.31, "color": "#00b070"}, {"offset": 0.42, "color": "#14a814"}, {"offset": 0.56, "color": "#a8e000"},
                    {"offset": 0.64, "color": "#ffff00"}, {"offset": 0.76, "color": "#ffb000"}, {"offset": 0.88, "color": "#ff5a00"},
                    {"offset": 1, "color": "#ff0000"}]}}},
                {"transform": [{"filter": "datum.part == 'above'"}], "mark": {"type": "rect", "fill": "#ff0000", "stroke": "#ffffff", "strokeWidth": 1}}
              ]
            },
            {
              "data": {"name": "eml"},
              "width": 222,
              "height": 17,
              "encoding": {
                "x": {"field": "lo", "type": "quantitative", "scale": {"type": "log", "domain": [186, 1625], "nice": false},
                      "axis": {"values": [275, 1100], "format": "d", "title": "EML", "titleAnchor": "end", "titleAlign": "center", "titleBaseline": "top", "titleY": 13, "titleAngle": 0,
                               "titleFont": "Open Sans", "titleFontSize": 14, "titleFontWeight": "normal", "titleColor": "#555555",
                               "domain": false, "ticks": false, "tickSize": 0, "grid": false, "labelPadding": 13, "labelFont": "Open Sans", "labelFontSize": 14, "labelColor": "#555555",
                               "labelFlush": false, "labelOverlap": false, "labelBaseline": "top",
                               "labelAlign": {"condition": {"test": "datum.value <= 275", "value": "left"}, "value": "center"}}},
                "x2": {"field": "hi"}
              },
              "layer": [
                {"transform": [{"filter": "datum.part == 'below'"}], "mark": {"type": "rect", "stroke": "#ffffff", "strokeWidth": 1,
                  "fill": {"gradient": "linear", "x1": 0, "y1": 0, "x2": 0, "y2": 1, "stops": [{"offset": 0, "color": "#4a4a4a"}, {"offset": 1, "color": "#000000"}]}}},
                {"transform": [{"filter": "datum.part == 'range'"}], "mark": {"type": "rect", "stroke": "#ffffff", "strokeWidth": 1,
                  "fill": {"gradient": "linear", "x1": 0, "y1": 0, "x2": 1, "y2": 0, "stops": [
                    {"offset": 0, "color": "#e2f1f9"}, {"offset": 0.3, "color": "#a4d6ee"}, {"offset": 0.6, "color": "#6ea4e0"},
                    {"offset": 0.85, "color": "#3c6cd0"}, {"offset": 1, "color": "#1e50c8"}]}}},
                {"transform": [{"filter": "datum.part == 'above'"}], "mark": {"type": "rect", "fill": "#0000ff", "stroke": "#ffffff", "strokeWidth": 1}}
              ]
            },
            {
              "data": {"name": "enl"},
              "width": 224,
              "height": 17,
              "encoding": {
                "x": {"field": "lo", "type": "quantitative", "scale": {"type": "log", "domain": [186, 1625], "nice": false},
                      "axis": {"values": [275, 1100], "format": "d", "title": "ENL", "titleAnchor": "end", "titleAlign": "center", "titleBaseline": "top", "titleY": 13, "titleAngle": 0,
                               "titleFont": "Open Sans", "titleFontSize": 14, "titleFontWeight": "normal", "titleColor": "#555555",
                               "domain": false, "ticks": false, "tickSize": 0, "grid": false, "labelPadding": 13, "labelFont": "Open Sans", "labelFontSize": 14, "labelColor": "#555555",
                               "labelFlush": false, "labelOverlap": false, "labelBaseline": "top",
                               "labelAlign": {"condition": {"test": "datum.value <= 275", "value": "left"}, "value": "center"}}},
                "x2": {"field": "hi"}
              },
              "layer": [
                {"transform": [{"filter": "datum.part == 'below'"}], "mark": {"type": "rect", "stroke": "#ffffff", "strokeWidth": 1,
                  "fill": {"gradient": "linear", "x1": 0, "y1": 0, "x2": 0, "y2": 1, "stops": [{"offset": 0, "color": "#4a4a4a"}, {"offset": 1, "color": "#000000"}]}}},
                {"transform": [{"filter": "datum.part == 'range'"}], "mark": {"type": "rect", "stroke": "#ffffff", "strokeWidth": 1,
                  "fill": {"gradient": "linear", "x1": 0, "y1": 0, "x2": 1, "y2": 0, "stops": [
                    {"offset": 0, "color": "#8a8a8a"}, {"offset": 0.18, "color": "#f8bcf8"}, {"offset": 0.45, "color": "#f47cf4"},
                    {"offset": 0.64, "color": "#ff00ff"}, {"offset": 0.86, "color": "#a800a8"}, {"offset": 1, "color": "#4e004e"}]}}},
                {"transform": [{"filter": "datum.part == 'above'"}], "mark": {"type": "rect", "fill": "#731a5c", "stroke": "#ffffff", "strokeWidth": 1}}
              ]
            }
          ]
        }
      ]
    }
  ],
  "spacing": 49.5,
  "resolve": {"scale": {"color": "independent", "x": "independent", "y": "independent"}}
}
